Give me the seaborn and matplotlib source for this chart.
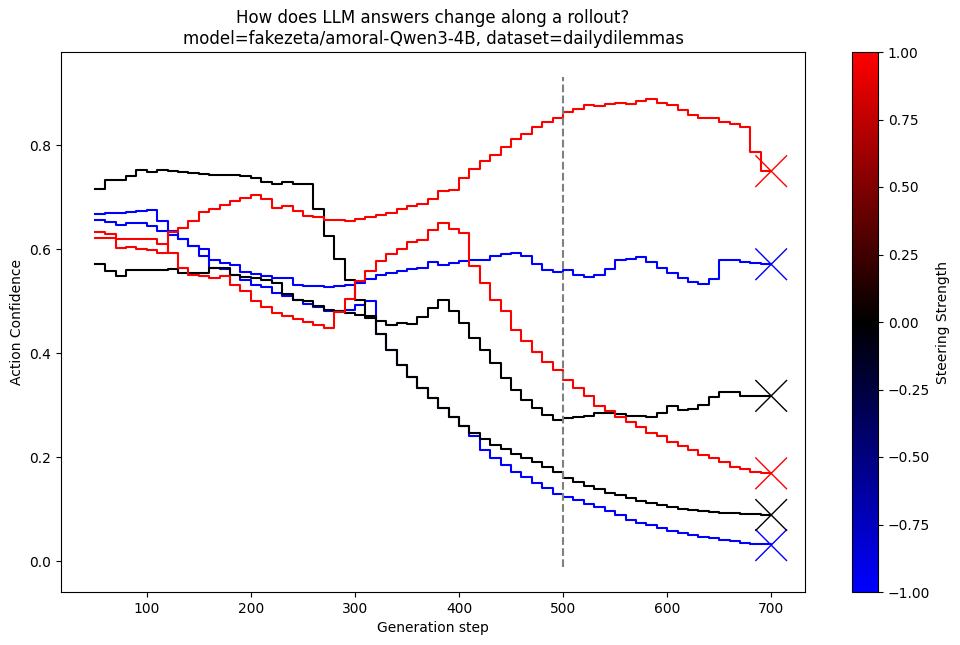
import numpy as np
import pandas as pd
import matplotlib
matplotlib.use("Agg")
import matplotlib.pyplot as plt
import seaborn as sns
from matplotlib.colors import LinearSegmentedColormap, Normalize
from matplotlib.cm import ScalarMappable

# generation steps (value changes every 10 steps)
steps = np.arange(50, 701, 10)

# steering strength of each rollout
strengths = [1.0, 1.0, 0.0, 0.0, -1.0, -1.0]

red_a = [0.622, 0.622, 0.603, 0.605, 0.600, 0.598, 0.593, 0.633, 0.641, 0.654,
         0.671, 0.677, 0.684, 0.693, 0.699, 0.705, 0.697, 0.680, 0.683, 0.673,
         0.664, 0.661, 0.656, 0.657, 0.655, 0.658, 0.662, 0.666, 0.670, 0.677,
         0.683, 0.686, 0.697, 0.712, 0.714, 0.736, 0.754, 0.769, 0.782, 0.796,
         0.812, 0.822, 0.834, 0.845, 0.853, 0.864, 0.869, 0.877, 0.876, 0.879,
         0.881, 0.879, 0.884, 0.889, 0.882, 0.877, 0.868, 0.858, 0.852, 0.852,
         0.844, 0.840, 0.834, 0.787, 0.750, 0.750]
red_b = [0.633, 0.630, 0.620, 0.620, 0.620, 0.619, 0.609, 0.593, 0.564, 0.551,
         0.548, 0.545, 0.548, 0.532, 0.519, 0.500, 0.488, 0.477, 0.471, 0.465,
         0.460, 0.455, 0.448, 0.480, 0.505, 0.538, 0.558, 0.577, 0.590, 0.601,
         0.614, 0.618, 0.637, 0.651, 0.639, 0.632, 0.567, 0.535, 0.503, 0.481,
         0.445, 0.423, 0.403, 0.384, 0.368, 0.349, 0.333, 0.317, 0.299, 0.288,
         0.278, 0.267, 0.258, 0.247, 0.240, 0.230, 0.222, 0.213, 0.204, 0.198,
         0.191, 0.182, 0.177, 0.172, 0.169, 0.169]
black_a = [0.715, 0.733, 0.733, 0.741, 0.752, 0.749, 0.752, 0.750, 0.749, 0.747,
           0.745, 0.743, 0.743, 0.742, 0.741, 0.736, 0.730, 0.725, 0.729, 0.726,
           0.726, 0.678, 0.626, 0.581, 0.540, 0.503, 0.471, 0.436, 0.407, 0.378,
           0.355, 0.334, 0.314, 0.294, 0.278, 0.261, 0.246, 0.236, 0.224, 0.215,
           0.206, 0.198, 0.190, 0.181, 0.171, 0.160, 0.153, 0.145, 0.138, 0.132,
           0.127, 0.121, 0.116, 0.112, 0.108, 0.105, 0.101, 0.099, 0.097, 0.095,
           0.093, 0.092, 0.091, 0.090, 0.089, 0.089]
black_b = [0.571, 0.558, 0.548, 0.560, 0.560, 0.560, 0.560, 0.561, 0.555, 0.555,
           0.555, 0.563, 0.563, 0.550, 0.546, 0.545, 0.540, 0.535, 0.513, 0.503,
           0.500, 0.490, 0.484, 0.481, 0.477, 0.474, 0.468, 0.461, 0.455, 0.458,
           0.457, 0.470, 0.486, 0.502, 0.481, 0.458, 0.429, 0.407, 0.381, 0.352,
           0.330, 0.310, 0.294, 0.281, 0.272, 0.275, 0.277, 0.280, 0.286, 0.285,
           0.283, 0.280, 0.280, 0.278, 0.286, 0.298, 0.291, 0.292, 0.301, 0.316,
           0.325, 0.325, 0.318, 0.318, 0.318, 0.318]
blue_a = [0.667, 0.669, 0.669, 0.672, 0.673, 0.675, 0.654, 0.635, 0.620, 0.606,
          0.601, 0.580, 0.574, 0.569, 0.556, 0.553, 0.549, 0.545, 0.545, 0.532,
          0.530, 0.530, 0.528, 0.530, 0.532, 0.535, 0.542, 0.551, 0.555, 0.558,
          0.561, 0.564, 0.575, 0.569, 0.573, 0.577, 0.580, 0.580, 0.587, 0.590,
          0.593, 0.587, 0.571, 0.560, 0.556, 0.560, 0.551, 0.547, 0.551, 0.562,
          0.579, 0.582, 0.585, 0.575, 0.564, 0.555, 0.545, 0.537, 0.534, 0.542,
          0.580, 0.579, 0.576, 0.573, 0.571, 0.571]
blue_b = [0.657, 0.652, 0.646, 0.651, 0.650, 0.644, 0.635, 0.628, 0.620, 0.606,
          0.587, 0.563, 0.561, 0.551, 0.540, 0.532, 0.528, 0.516, 0.510, 0.502,
          0.495, 0.488, 0.482, 0.481, 0.484, 0.492, 0.500, 0.436, 0.407, 0.378,
          0.355, 0.334, 0.314, 0.294, 0.278, 0.261, 0.240, 0.214, 0.198, 0.185,
          0.172, 0.162, 0.151, 0.140, 0.130, 0.123, 0.118, 0.111, 0.105, 0.097,
          0.089, 0.080, 0.074, 0.069, 0.063, 0.058, 0.055, 0.050, 0.047, 0.044,
          0.040, 0.039, 0.036, 0.034, 0.033, 0.031]

runs = [red_a, red_b, black_a, black_b, blue_a, blue_b]

# long table for seaborn, blue drawn first and red last
rows = []
for i in [4, 5, 2, 3, 0, 1]:
    for s, v in zip(steps, runs[i]):
        rows.append({"step": s, "conf": v, "run": i, "strength": strengths[i]})
df = pd.DataFrame(rows)
ends = df[df["step"] == steps[-1]]

cmap = LinearSegmentedColormap.from_list("steer", ["blue", "black", "red"])
norm = Normalize(-1, 1)

fig = plt.figure(figsize=(9.6, 6.45), dpi=100)
ax = fig.add_axes([61 / 960, 53 / 645, 744 / 960, 540 / 645])
cax = fig.add_axes([852 / 960, 53 / 645, 26 / 960, 540 / 645])

sns.lineplot(data=df, x="step", y="conf", units="run", estimator=None,
             hue="strength", palette=cmap, hue_norm=norm,
             drawstyle="steps-post", linewidth=1.5, legend=False, ax=ax)
sns.scatterplot(data=ends, x="step", y="conf", hue="strength", palette=cmap,
                hue_norm=norm, marker="x", s=520, linewidth=1,
                legend=False, ax=ax)

# dashed marker at step 500, spanning the current y range
y0, y1 = ax.get_ylim()
ax.vlines(500, y0, y1, colors="gray", linestyles="--", linewidth=1.5)
ax.autoscale()

ax.set_title("How does LLM answers change along a rollout?\n"
             "model=fakezeta/amoral-Qwen3-4B, dataset=dailydilemmas")
ax.set_xlabel("Generation step")
ax.set_ylabel("Action Confidence")

fig.colorbar(ScalarMappable(norm=norm, cmap=cmap), cax=cax,
             label="Steering Strength")

fig.savefig("out.png", dpi=100)
